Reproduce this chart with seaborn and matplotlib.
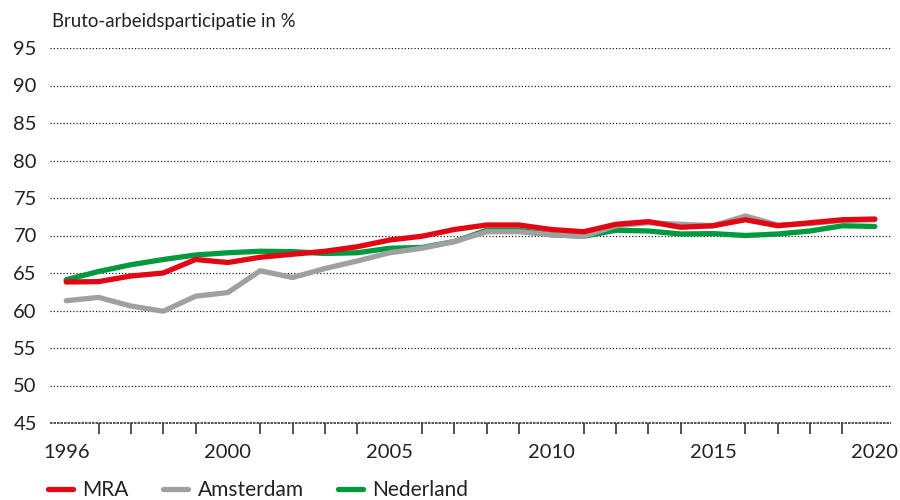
import matplotlib
matplotlib.use("Agg")
import matplotlib.pyplot as plt
from matplotlib.lines import Line2D
import seaborn as sns
import pandas as pd

years = list(range(1995, 2021))
mra = [63.8, 63.85, 64.6, 65.0, 66.8, 66.4, 67.1, 67.5, 67.9, 68.5, 69.4, 69.9, 70.8,
       71.4, 71.4, 70.8, 70.5, 71.5, 71.85, 71.1, 71.3, 72.1, 71.3, 71.7, 72.1, 72.2]
amsterdam = [61.3, 61.75, 60.6, 59.9, 61.9, 62.4, 65.3, 64.4, 65.6, 66.6, 67.7, 68.3, 69.2,
             70.5, 70.5, 70.1, 69.9, 71.3, 71.7, 71.5, 71.3, 72.6, 71.4, 71.6, 72.0, 72.1]
nederland = [64.1, 65.2, 66.1, 66.8, 67.4, 67.7, 67.9, 67.85, 67.6, 67.7, 68.3, 68.4, 69.2,
             70.7, 70.7, 70.1, 69.9, 70.7, 70.6, 70.2, 70.25, 70.0, 70.2, 70.6, 71.3, 71.2]
series_names = ["MRA", "Amsterdam", "Nederland"]
xtick_positions = [1995, 2000, 2005, 2010, 2015, 2020]
xtick_labels = ["1996", "2000", "2005", "2010", "2015", "2020"]
yticks = [45, 50, 55, 60, 65, 70, 75, 80, 85, 90, 95]
title = "Bruto-arbeidsparticipatie in %"

colors = {"MRA": "#e30613", "Amsterdam": "#a0a0a0", "Nederland": "#009a3e"}
zorders = {"MRA": 5, "Amsterdam": 4, "Nederland": 3}

df = pd.DataFrame({
    "jaar": years * 3,
    "waarde": mra + amsterdam + nederland,
    "reeks": sum([[n] * len(years) for n in series_names], []),
})

sns.set_theme(style="white")
plt.rcParams["font.family"] = ["Lato", "DejaVu Sans"]

fig = plt.figure(figsize=(9, 5), dpi=100)
ax = fig.add_axes([50 / 900, 1 - 423 / 500, (891 - 50) / 900, (423 - 48) / 500])

LW = 3.8
for name in ["Nederland", "Amsterdam", "MRA"]:
    sub = df[df["reeks"] == name]
    sns.lineplot(data=sub, x="jaar", y="waarde", ax=ax, color=colors[name],
                 linewidth=LW, zorder=zorders[name], solid_capstyle="round",
                 legend=False)

ax.set_xlim(1994.5, 2020.5)
ax.set_ylim(45, 95)
ax.set_yticks(yticks)
ax.set_yticklabels([str(v) for v in yticks])
ax.set_xticks(years, minor=True)
ax.set_xticks(xtick_positions)
ax.set_xticklabels(xtick_labels)
for y in yticks[1:]:
    ax.axhline(y, color="#222222", linestyle=(0, (1, 1.6)), linewidth=0.9, zorder=1)
ax.axhline(45, color="#333333", linestyle=(0, (1.5, 0.6)), linewidth=1.2, zorder=2, clip_on=False)

for s in ax.spines.values():
    s.set_visible(False)
ax.tick_params(axis="y", length=0, pad=9.5, labelsize=14.5, labelcolor="#222222")
ax.tick_params(axis="x", which="both", direction="out", length=0, pad=15,
               labelsize=14.5, labelcolor="#222222")
ax.tick_params(axis="x", which="minor", length=8, width=1.2, color="#333333", bottom=True)
ax.set_xlabel("")
ax.set_ylabel("")

fig.text(52 / 900, 1 - 21 / 500, title, fontsize=13.4, color="#222222", va="center", ha="left")

handles = [Line2D([0], [0], color=colors[n], linewidth=LW, solid_capstyle="round")
           for n in series_names]
fig.legend(handles, series_names, loc="center left", bbox_to_anchor=(48 / 900, 1 - 490 / 500),
           ncol=3, frameon=False, fontsize=15, handlelength=1.2, handletextpad=0.45,
           columnspacing=1.65, borderaxespad=0, borderpad=0, labelcolor="#222222")

fig.savefig("out.png", dpi=100)
